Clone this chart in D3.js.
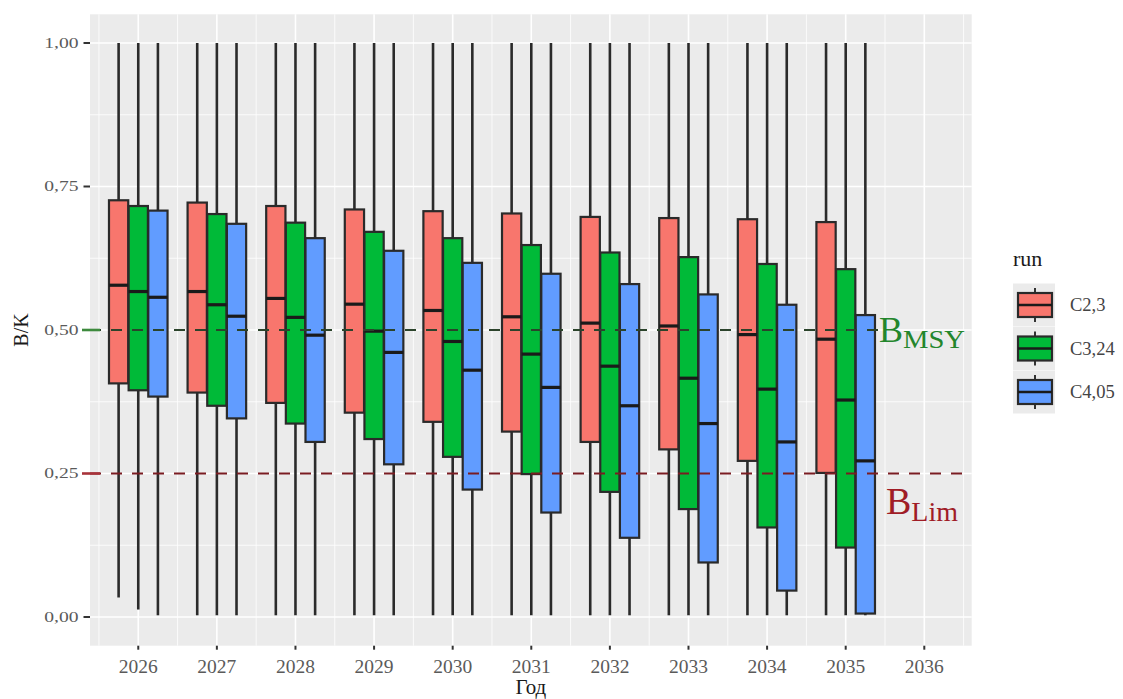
<!DOCTYPE html>
<html><head><meta charset="utf-8">
<script src="https://cdn.jsdelivr.net/npm/d3@7"></script>
<style>body{margin:0;background:#fff}svg{display:block}text{font-family:"Liberation Serif","Times New Roman",serif}</style>
</head><body><svg id="c" width="1123" height="699"></svg>
<script>
// ---- data ----
const years = [2026,2027,2028,2029,2030,2031,2032,2033,2034,2035];
const runs = ["C2,3","C3,24","C4,05"];
const runColors = ["#F8766D","#00BA38","#619CFF"];
const xTicks = [2026,2027,2028,2029,2030,2031,2032,2033,2034,2035,2036];
const yTicks = [0,0.25,0.5,0.75,1];
const yTickLabels = ["0,00","0,25","0,50","0,75","1,00"];

const c23Lower  = [0.034,0.003,0.003,0.003,0.003,0.003,0.003,0.003,0.003,0.003];
const c23Q1     = [0.407,0.391,0.373,0.356,0.340,0.323,0.305,0.292,0.272,0.251];
const c23Median = [0.578,0.567,0.555,0.545,0.534,0.523,0.512,0.507,0.492,0.484];
const c23Q3     = [0.726,0.722,0.716,0.710,0.707,0.703,0.697,0.695,0.693,0.688];
const c23Upper  = [1,1,1,1,1,1,1,1,1,1];

const c324Lower  = [0.013,0.003,0.003,0.003,0.003,0.003,0.003,0.003,0.003,0.003];
const c324Q1     = [0.395,0.368,0.337,0.310,0.279,0.249,0.218,0.188,0.156,0.121];
const c324Median = [0.567,0.544,0.522,0.498,0.480,0.458,0.437,0.416,0.397,0.378];
const c324Q3     = [0.716,0.702,0.687,0.671,0.660,0.648,0.635,0.627,0.615,0.606];
const c324Upper  = [1,1,1,1,1,1,1,1,1,1];

const c405Lower  = [0.003,0.003,0.003,0.003,0.003,0.003,0.003,0.003,0.003,0.003];
const c405Q1     = [0.384,0.346,0.305,0.266,0.222,0.182,0.138,0.095,0.046,0.006];
const c405Median = [0.557,0.524,0.491,0.461,0.430,0.400,0.368,0.337,0.305,0.272];
const c405Q3     = [0.708,0.685,0.660,0.638,0.617,0.598,0.580,0.562,0.544,0.526];
const c405Upper  = [1,1,1,1,1,1,1,1,1,1];

const refLines = [
  {value:0.5, label:"B", sub:"MSY"},
  {value:0.25, label:"B", sub:"Lim"}
];

// ---- build ----
const series = [
  {lo:c23Lower, q1:c23Q1, med:c23Median, q3:c23Q3, hi:c23Upper},
  {lo:c324Lower, q1:c324Q1, med:c324Median, q3:c324Q3, hi:c324Upper},
  {lo:c405Lower, q1:c405Q1, med:c405Median, q3:c405Q3, hi:c405Upper}
];
const boxes = [];
series.forEach((s,si)=>years.forEach((yr,i)=>boxes.push({run:si, year:yr, lo:s.lo[i], q1:s.q1[i], med:s.med[i], q3:s.q3[i], hi:s.hi[i]})));

const svg = d3.select("#c");
const P = {l:90, r:971.7, t:14.3, b:645.7};
const x = d3.scaleLinear().domain([2025.386, 2036.603]).range([P.l, P.r]);
const y = d3.scaleLinear().domain([-0.05, 1.05]).range([P.b, P.t]);
const dodge = d3.scaleBand().domain([0,1,2]).range([-0.375, 0.375]);
const boxW = 0.245;

svg.append("rect").attr("width",1123).attr("height",699).attr("fill","#fff");
svg.append("rect").attr("x",P.l).attr("y",P.t).attr("width",P.r-P.l).attr("height",P.b-P.t).attr("fill","#ebebeb");

// grid
const g = svg.append("g");
[0.125,0.375,0.625,0.875].forEach(v=>g.append("line").attr("x1",P.l).attr("x2",P.r).attr("y1",y(v)).attr("y2",y(v)).attr("stroke","#fff").attr("stroke-width",0.8));
d3.range(2025.5,2037,1).filter(v=>x(v)>P.l&&x(v)<P.r).forEach(v=>g.append("line").attr("y1",P.t).attr("y2",P.b).attr("x1",x(v)).attr("x2",x(v)).attr("stroke","#fff").attr("stroke-width",0.8));
yTicks.forEach(v=>g.append("line").attr("x1",P.l).attr("x2",P.r).attr("y1",y(v)).attr("y2",y(v)).attr("stroke","#fff").attr("stroke-width",1.6));
xTicks.forEach(v=>g.append("line").attr("y1",P.t).attr("y2",P.b).attr("x1",x(v)).attr("x2",x(v)).attr("stroke","#fff").attr("stroke-width",1.6));

// boxes
const bx = d => d.year + dodge(d.run) + dodge.bandwidth()/2;
const bg = svg.append("g");
bg.selectAll(".wu").data(boxes).join("line").attr("x1",d=>x(bx(d))).attr("x2",d=>x(bx(d))).attr("y1",d=>y(d.hi)).attr("y2",d=>y(d.q3)).attr("stroke","#2a2a2a").attr("stroke-width",2.6);
bg.selectAll(".wl").data(boxes).join("line").attr("x1",d=>x(bx(d))).attr("x2",d=>x(bx(d))).attr("y1",d=>y(d.q1)).attr("y2",d=>y(d.lo)).attr("stroke","#2a2a2a").attr("stroke-width",2.6);
bg.selectAll(".bx").data(boxes).join("rect")
  .attr("x",d=>x(bx(d)-boxW/2)).attr("width",d=>x(bx(d)+boxW/2)-x(bx(d)-boxW/2))
  .attr("y",d=>y(d.q3)).attr("height",d=>y(d.q1)-y(d.q3))
  .attr("fill",d=>runColors[d.run]).attr("stroke","#2a2a2a").attr("stroke-width",2.2);
bg.selectAll(".md").data(boxes).join("line").attr("x1",d=>x(bx(d)-boxW/2)).attr("x2",d=>x(bx(d)+boxW/2)).attr("y1",d=>y(d.med)).attr("y2",d=>y(d.med)).attr("stroke","#1a1a1a").attr("stroke-width",3.2);

// reference lines
const refStyle = [{col:"#2b432b", txt:"#23862c", x2:878, tick:"#3d8a3d"},{col:"#7a1c22", txt:"#a01c26", x2:P.r, tick:"#a8333a"}];
refLines.forEach((r,i)=>{
  const st = refStyle[i];
  svg.append("line").attr("x1",P.l).attr("x2",st.x2).attr("y1",y(r.value)).attr("y2",y(r.value))
    .attr("stroke",st.col).attr("stroke-width",2.2).attr("stroke-dasharray","11,10");
});

// axes
const yAxis = svg.append("g");
yTicks.forEach((v,i)=>{
  const isRef = (v===0.5||v===0.25);
  const special = v===0.5 ? refStyle[0].tick : (v===0.25 ? refStyle[1].tick : "#333");
  yAxis.append("line").attr("x1",isRef?82:83.5).attr("x2",isRef?100:P.l).attr("y1",y(v)).attr("y2",y(v)).attr("stroke",special).attr("stroke-width",isRef?2.6:2);
  yAxis.append("text").attr("transform",`translate(78.5,${y(v)}) scale(1.36,1)`).attr("text-anchor","end").attr("dy","0.34em")
    .attr("font-size",14.4).attr("fill","#5a5a5a").text(yTickLabels[i]);
});
const xAxis = svg.append("g");
xTicks.forEach(v=>{
  xAxis.append("line").attr("x1",x(v)).attr("x2",x(v)).attr("y1",P.b).attr("y2",P.b+4).attr("stroke","#333").attr("stroke-width",2);
  xAxis.append("text").attr("x",x(v)).attr("y",673).attr("text-anchor","middle").attr("font-size",19.5).attr("fill","#5a5a5a").text(d3.format("d")(v));
});
svg.append("text").attr("x",(P.l+P.r)/2).attr("y",694).attr("text-anchor","middle").attr("font-size",21).attr("fill","#1a1a1a").text("Год");
svg.append("text").attr("transform",`translate(28,${y(0.5)}) rotate(-90)`).attr("text-anchor","middle").attr("font-size",20).attr("fill","#1a1a1a").text("B/K");

// ref labels
const lab1 = svg.append("text").attr("x",879).attr("y",342).attr("fill",refStyle[0].txt);
lab1.append("tspan").attr("font-size",36).text(refLines[0].label);
lab1.append("tspan").attr("font-size",25).attr("dy",6).attr("textLength",62).attr("lengthAdjust","spacingAndGlyphs").text(refLines[0].sub);
const lab2 = svg.append("text").attr("x",886).attr("y",514).attr("fill",refStyle[1].txt);
lab2.append("tspan").attr("font-size",38).text(refLines[1].label);
lab2.append("tspan").attr("font-size",28).attr("dy",7).text(refLines[1].sub);

// legend
const lg = svg.append("g");
lg.append("text").attr("x",1013).attr("y",266).attr("font-size",22).attr("fill","#1a1a1a").text("run");
const keyC = [305, 348.5, 392];
runs.forEach((r,i)=>{
  const cy = keyC[i];
  lg.append("rect").attr("x",1013).attr("y",cy-21.5).attr("width",42).attr("height",43).attr("fill","#ebebeb");
  lg.append("line").attr("x1",1035).attr("x2",1035).attr("y1",cy-17).attr("y2",cy+17).attr("stroke","#333").attr("stroke-width",2);
  lg.append("rect").attr("x",1018).attr("y",cy-12).attr("width",34).attr("height",24).attr("fill",runColors[i]).attr("stroke","#2a2a2a").attr("stroke-width",2.2);
  lg.append("line").attr("x1",1018).attr("x2",1052).attr("y1",cy).attr("y2",cy).attr("stroke","#1a1a1a").attr("stroke-width",2.6);
  lg.append("text").attr("x",1070).attr("y",cy).attr("dy","0.35em").attr("font-size",18.5).attr("fill","#444").text(r);
});
</script></body></html>
